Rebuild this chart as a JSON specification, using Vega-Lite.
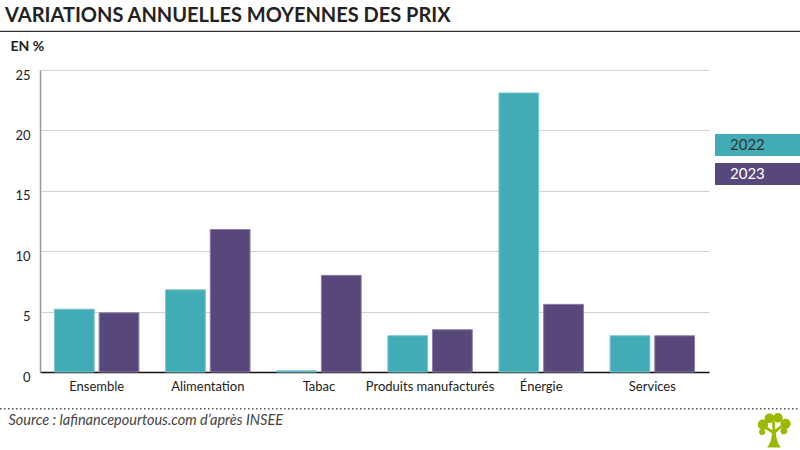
{
  "$schema": "https://vega.github.io/schema/vega-lite/v6.json",
  "width": 669,
  "height": 302,
  "autosize": {"type": "none"},
  "padding": {"left": 40, "top": 70, "right": 91, "bottom": 78},
  "background": "white",
  "config": {"font": "Lato", "view": {"stroke": null}},
  "title": {
    "text": "VARIATIONS ANNUELLES MOYENNES DES PRIX",
    "anchor": "start",
    "frame": "group",
    "dx": -35,
    "offset": 5,
    "fontSize": 20,
    "fontWeight": "bold",
    "color": "#222222",
    "font": "Lato"
  },
  "datasets": {
    "prix": [
      {"categorie": "Ensemble", "annee": "2022", "valeur": 5.2},
      {"categorie": "Ensemble", "annee": "2023", "valeur": 4.9},
      {"categorie": "Alimentation", "annee": "2022", "valeur": 6.8},
      {"categorie": "Alimentation", "annee": "2023", "valeur": 11.8},
      {"categorie": "Tabac", "annee": "2022", "valeur": 0.1},
      {"categorie": "Tabac", "annee": "2023", "valeur": 8.0},
      {"categorie": "Produits manufacturés", "annee": "2022", "valeur": 3.0},
      {"categorie": "Produits manufacturés", "annee": "2023", "valeur": 3.5},
      {"categorie": "Énergie", "annee": "2022", "valeur": 23.1},
      {"categorie": "Énergie", "annee": "2023", "valeur": 5.6},
      {"categorie": "Services", "annee": "2022", "valeur": 3.0},
      {"categorie": "Services", "annee": "2023", "valeur": 3.0}
    ],
    "decor": [{"element": "décor"}]
  },
  "layer": [
    {
      "data": {"name": "prix"},
      "mark": {"type": "bar", "strokeWidth": 1},
      "encoding": {
        "x": {
          "field": "categorie",
          "type": "nominal",
          "sort": null,
          "scale": {"paddingInner": 0.24, "paddingOuter": 0.13},
          "axis": {
            "labelAngle": 0,
            "domainColor": "#111111",
            "domainWidth": 1.5,
            "ticks": false,
            "grid": false,
            "labelPadding": 8,
            "labelFontSize": 13,
            "labelColor": "#222222",
            "title": "Source : lafinancepourtous.com d’après INSEE",
            "titleFontStyle": "italic",
            "titleFontWeight": "normal",
            "titleFontSize": 14.5,
            "titleColor": "#444444",
            "titleAlign": "left",
            "titleAnchor": "start",
            "titleX": -32,
            "titleY": 48,
            "titleBaseline": "middle"
          }
        },
        "xOffset": {
          "field": "annee",
          "type": "nominal",
          "scale": {"paddingInner": 0.11, "paddingOuter": 0}
        },
        "y": {
          "field": "valeur",
          "type": "quantitative",
          "scale": {"domain": [0, 25], "nice": false},
          "axis": {
            "values": [0, 5, 10, 15, 20, 25],
            "ticks": false,
            "domainColor": "#999999",
            "domainWidth": 1.5,
            "gridColor": "#d2d2d2",
            "gridWidth": 1,
            "labelPadding": 10,
            "labelFontSize": 13,
            "labelColor": "#222222",
            "labelOffset": 5,
            "title": "EN %",
            "titleAngle": 0,
            "titleX": -30,
            "titleY": -20,
            "titleAlign": "left",
            "titleBaseline": "alphabetic",
            "titleFontSize": 14,
            "titleFontWeight": "bold",
            "titleColor": "#222222"
          }
        },
        "color": {
          "field": "annee",
          "type": "nominal",
          "scale": {"domain": ["2022", "2023"], "range": ["#41acb6", "#58477a"]},
          "legend": {
            "orient": "none",
            "legendX": 675,
            "legendY": 64,
            "title": null,
            "symbolType": "M-1,-1H6.73V1H-1Z",
            "symbolSize": 484,
            "symbolStrokeWidth": 0,
            "symbolOpacity": 1,
            "labelFontSize": 15,
            "labelOffset": -7,
            "rowPadding": 7,
            "padding": 0,
            "labelColor": "#333333",
            "encode": {
              "labels": {
                "update": {
                  "fill": {"signal": "datum.label === '2023' ? '#ffffff' : '#333333'"}
                }
              }
            }
          }
        },
        "stroke": {
          "field": "annee",
          "type": "nominal",
          "scale": {"domain": ["2022", "2023"], "range": ["#7cc6cc", "#8b7fa6"]},
          "legend": null
        }
      }
    },
    {
      "data": {"name": "decor"},
      "mark": {"type": "rule", "color": "#333333", "strokeWidth": 1.2},
      "encoding": {
        "x": {"datum": 0, "type": "quantitative", "scale": {"domain": [0, 1], "range": [-40, 760]}, "axis": null},
        "x2": {"datum": 1},
        "y": {"datum": 28.2, "type": "quantitative"}
      }
    },
    {
      "data": {"name": "decor"},
      "mark": {"type": "rule", "color": "#555555", "strokeWidth": 1.5, "strokeDash": [1.5, 2.5]},
      "encoding": {
        "x": {"datum": 0, "type": "quantitative", "scale": {"domain": [0, 1], "range": [-40, 760]}, "axis": null},
        "x2": {"datum": 1},
        "y": {"datum": -3.05, "type": "quantitative"}
      }
    },
    {
      "data": {"name": "decor"},
      "mark": {
        "type": "point",
        "filled": true,
        "opacity": 1,
        "color": "#9db800",
        "size": 1156,
        "shape": "M-0.4,1Q-0.12,0.6-0.12,0.15L-0.6,-0.15L-0.5,-0.27L-0.08,-0.02L-0.12,-0.55L0.06,-0.55L0.06,-0.08L0.5,-0.38L0.6,-0.28L0.12,0.12Q0.12,0.6 0.4,1ZM-0.95,-0.35a0.3,0.3 0 1,1 0.6,0a0.3,0.3 0 1,1 -0.6,0ZM-0.55,-0.72a0.28,0.28 0 1,1 0.56,0a0.28,0.28 0 1,1 -0.56,0ZM-0.05,-0.75a0.28,0.28 0 1,1 0.56,0a0.28,0.28 0 1,1 -0.56,0ZM0.38,-0.4a0.3,0.3 0 1,1 0.6,0a0.3,0.3 0 1,1 -0.6,0ZM0.38,0.02a0.2,0.2 0 1,1 0.4,0a0.2,0.2 0 1,1 -0.4,0ZM-0.88,0.08a0.18,0.18 0 1,1 0.36,0a0.18,0.18 0 1,1 -0.36,0Z"
      },
      "encoding": {
        "x": {"datum": 0.9675, "type": "quantitative", "scale": {"domain": [0, 1], "range": [-40, 760]}, "axis": null},
        "y": {"datum": -4.85, "type": "quantitative"}
      }
    }
  ],
  "resolve": {"scale": {"x": "independent", "stroke": "independent"}, "axis": {"x": "independent"}}
}
